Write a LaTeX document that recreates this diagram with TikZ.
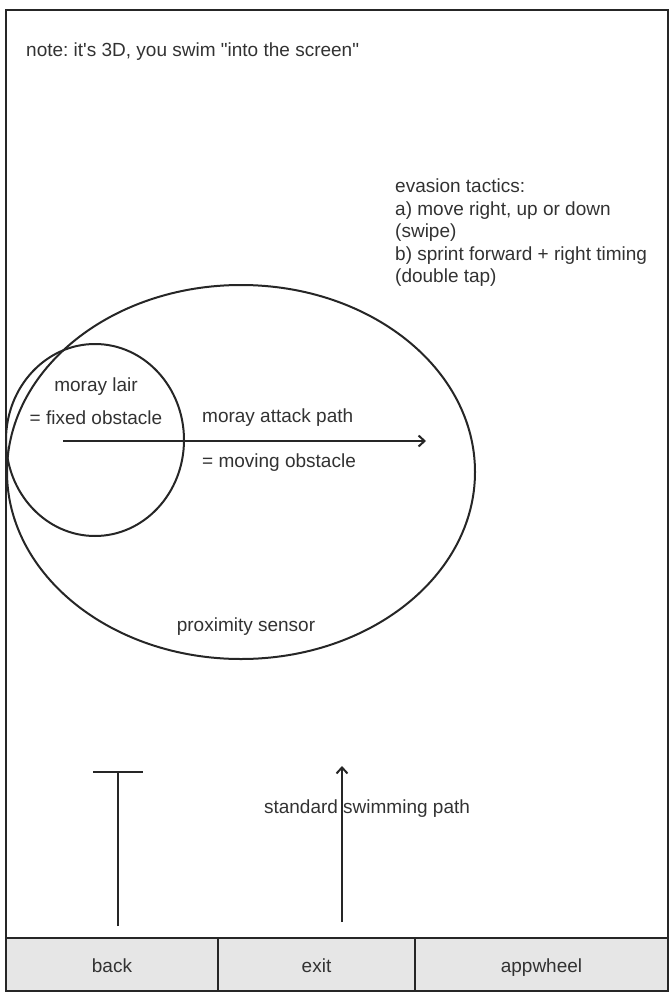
\documentclass[tikz,border=0pt]{standalone}
\usepackage{fontspec}
\setmainfont{Liberation Sans}[Ligatures=TeXOff]
\usetikzlibrary{arrows.meta, positioning}
\definecolor{barfill}{RGB}{230,230,230}
\definecolor{inkgray}{RGB}{50,50,50}
\frenchspacing

\begin{document}
\begin{tikzpicture}[x=1pt, y=-1pt,
    every node/.style={font=\fontsize{19}{22.4}\selectfont, text=inkgray, inner sep=0pt},
    sketch/.style={line width=2pt, draw=black!85},
    swimarrow/.style={sketch, -{Straight Barb[length=6pt, width=11pt]}}]
  \useasboundingbox (0,0) rectangle (670,992);
  % screen and button bar
  \foreach \i/\xa/\xb/\lbl in {1/6/218/back, 2/218/415/exit, 3/415/668/appwheel}{
    \fill[barfill] (\xa,938) rectangle (\xb,991);
    \draw[sketch] (\xa,938) rectangle (\xb,991);
    \node[anchor=base] (btn\i) at ({(\xa+\xb)/2},972) {\lbl};
  }
  \draw[sketch, line width=2.5pt] (6,10) rectangle (668,991);

  \node[anchor=base west] (note) at (26,57) {note: it's 3D, you swim "into the screen"};
  \node[anchor=north west, align=left] (tactics) at (395,179)
    {evasion tactics:\\a) move right, up or down\\(swipe)\\b) sprint forward + right timing\\(double tap)};

  % proximity sensor and lair
  \draw[sketch] (241,472) ellipse [x radius=234, y radius=187];
  \draw[sketch] (95,440) ellipse [x radius=89, y radius=96];
  \node (lair) at (96,387) {moray lair};
  \node (fixed) at (96,418) {= fixed obstacle};
  \node[anchor=west] (attack) at (202,418) {moray attack path};
  \node[anchor=west] (moving) at (202,463) {= moving obstacle};
  \node (sensor) at (246,627) {proximity sensor};
  \coordinate (attackstart) at (63,441);
  \coordinate (attackend) at (426,441);
  \draw[swimarrow] (attackstart) -- (attackend);

  % swimming paths
  \coordinate (stopfoot) at (118,926);
  \coordinate (stoptop) at (118,772);
  \coordinate (stopleft) at (93,772);
  \coordinate (stopright) at (143,772);
  \draw[sketch] (stopfoot) -- (stoptop);
  \draw[sketch] (stopleft) -- (stopright);
  \coordinate (swimstart) at (342,922);
  \coordinate (swimend) at (342,766);
  \draw[swimarrow] (swimstart) -- (swimend);
  \node (swim) at (367,809) {standard swimming path};
\end{tikzpicture}
\end{document}
